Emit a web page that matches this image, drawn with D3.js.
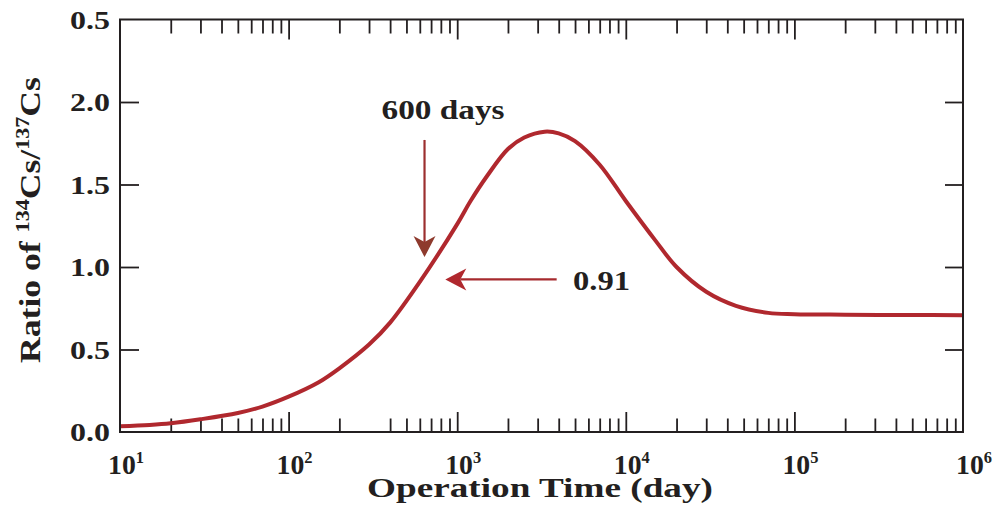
<!DOCTYPE html>
<html><head><meta charset="utf-8">
<script src="https://cdn.jsdelivr.net/npm/d3@7"></script>
<style>body{margin:0;background:#fff} text{font-family:"Liberation Serif","Times New Roman",Times,"DejaVu Serif",serif;font-weight:bold}</style></head>
<body><svg id="c" width="997" height="526"></svg>
<script>
// ---- data ----
const days  = [10, 15, 20, 30, 50, 70, 100, 150, 200, 300, 400, 600, 1000, 1200, 1500, 2000, 2500, 3300, 4000, 5000, 7000, 10000, 15000, 20000, 30000, 45000, 70000, 100000, 200000, 500000, 1000000];
const ratio = [0.035, 0.043, 0.053, 0.077, 0.115, 0.154, 0.214, 0.300, 0.386, 0.530, 0.663, 0.91, 1.26, 1.40, 1.55, 1.715, 1.785, 1.82, 1.81, 1.763, 1.62, 1.40, 1.16, 1.00, 0.85, 0.765, 0.722, 0.714, 0.711, 0.709, 0.708];
const yTicks = [0, 0.5, 1.0, 1.5, 2.0, 2.5];
const yTickLabels = ["0.0", "0.5", "1.0", "1.5", "2.0", "0.5"];
const xMajor = [10, 100, 1000, 10000, 100000, 1000000];
const xExp = ["1", "2", "3", "4", "5", "6"];
const minorMult = [2, 3, 4, 5, 6, 7, 8, 9];
const bottomMissing = [300];
const annoLabels = ["600 days", "0.91"];
const vArrowDay = 640, vArrowFrom = 1.77, vArrowTo = 1.06;
const hArrowRatio = 0.925, hArrowFrom = 3890, hArrowTo = 850;
const annoDay1 = 824, annoRatio1 = 1.895;
const annoDay2 = 4860, annoRatio2 = 0.86;

// ---- layout ----
const svg = d3.select("#c");
const L = 120, R = 963, T = 19.5, B = 432;
const x = d3.scaleLog().domain([10, 1e6]).range([L, R]);
const y = d3.scaleLinear().domain([0, 2.5]).range([B, T]);
const ink = "#231f20", red = "#b0282e";

const minors = [];
[10, 100, 1000, 10000, 100000].forEach(d => minorMult.forEach(m => minors.push(d * m)));
const inner = xMajor.slice(1, -1);

function axis(gen, vals, len, tr, filt) {
  const g = svg.append("g").attr("transform", tr)
    .call(gen.tickValues(vals.filter(filt || (() => true))).tickSize(-len).tickFormat(""));
  g.select(".domain").remove();
  g.selectAll("line").attr("stroke", ink).attr("stroke-width", 1.8);
  return g;
}
axis(d3.axisBottom(x), inner, 20, `translate(0,${B})`);
axis(d3.axisBottom(x), minors, 13.5, `translate(0,${B})`, v => !bottomMissing.includes(v));
axis(d3.axisTop(x), inner, 20, `translate(0,${T})`);
axis(d3.axisTop(x), minors, 14, `translate(0,${T})`);
axis(d3.axisLeft(y), yTicks.slice(1, -1), 19, `translate(${L},0)`);
axis(d3.axisRight(y), yTicks.slice(1, -1), 18, `translate(${R},0)`);

// curve
const line = d3.line().x((d, i) => x(days[i])).y((d, i) => y(ratio[i])).curve(d3.curveCatmullRom.alpha(0.5));
svg.append("path").datum(ratio).attr("d", line).attr("fill", "none")
  .attr("stroke", red).attr("stroke-width", 4).attr("stroke-linejoin", "round");

// frame
svg.append("rect").attr("x", L).attr("y", T).attr("width", R - L).attr("height", B - T)
  .attr("fill", "none").attr("stroke", ink).attr("stroke-width", 2);

// text with horizontal fit to a target width
function fitText(tr, size, anchor, width, build) {
  const g = svg.append("g");
  const t = g.append("text").attr("font-size", size).attr("fill", ink).attr("text-anchor", anchor);
  build(t);
  const w = t.node().getComputedTextLength();
  const sx = width ? width / w : 1;
  g.attr("transform", `${tr} scale(${sx},1)`);
  return t;
}

// y tick labels
yTicks.forEach((v, i) => {
  fitText(`translate(110,${y(v) + 9})`, 25, "end", 40, t => t.text(yTickLabels[i]));
});

// x tick labels
xMajor.forEach((v, i) => {
  const left = x(v) + (i === 5 ? 7 : 2) - 14;
  fitText(`translate(${left},474)`, 27, "start", 36, t => {
    t.append("tspan").text("10");
    t.append("tspan").attr("font-size", 16).attr("dy", -11).text(xExp[i]);
  });
});

// axis titles
fitText(`translate(540,497)`, 27, "middle", 346, t => t.text("Operation Time (day)"));
fitText(`translate(40,220) rotate(-90)`, 29, "middle", 286, t => {
  t.append("tspan").text("Ratio of ");
  t.append("tspan").attr("font-size", 18).attr("dy", -11).text("134");
  t.append("tspan").attr("dy", 11).text("Cs/");
  t.append("tspan").attr("font-size", 18).attr("dy", -11).text("137");
  t.append("tspan").attr("dy", 11).text("Cs");
});

// annotations
fitText(`translate(${x(annoDay1)},${y(annoRatio1)})`, 28, "middle", 123, t => t.text(annoLabels[0]));
fitText(`translate(${x(annoDay2)},${y(annoRatio2)})`, 28, "start", 57, t => t.text(annoLabels[1]));

function arrow(x1, y1, x2, y2, lineCol, headCol) {
  const ang = Math.atan2(y2 - y1, x2 - x1);
  const hl = 21, hw = 11, notch = 6;
  const bx = x2 - hl * Math.cos(ang), by = y2 - hl * Math.sin(ang);
  const nx = x2 - (hl - notch) * Math.cos(ang), ny = y2 - (hl - notch) * Math.sin(ang);
  const px = -Math.sin(ang), py = Math.cos(ang);
  svg.append("line").attr("x1", x1).attr("y1", y1).attr("x2", nx).attr("y2", ny)
    .attr("stroke", lineCol).attr("stroke-width", 2.2);
  svg.append("path").attr("d", `M${x2},${y2}L${bx + px * hw},${by + py * hw}L${nx},${ny}L${bx - px * hw},${by - py * hw}Z`)
    .attr("fill", headCol);
}
arrow(x(vArrowDay), y(vArrowFrom), x(vArrowDay), y(vArrowTo), "#9c2f2f", "#8e3a2d");
arrow(x(hArrowFrom), y(hArrowRatio), x(hArrowTo), y(hArrowRatio), "#a62a2e", red);
</script></body></html>
